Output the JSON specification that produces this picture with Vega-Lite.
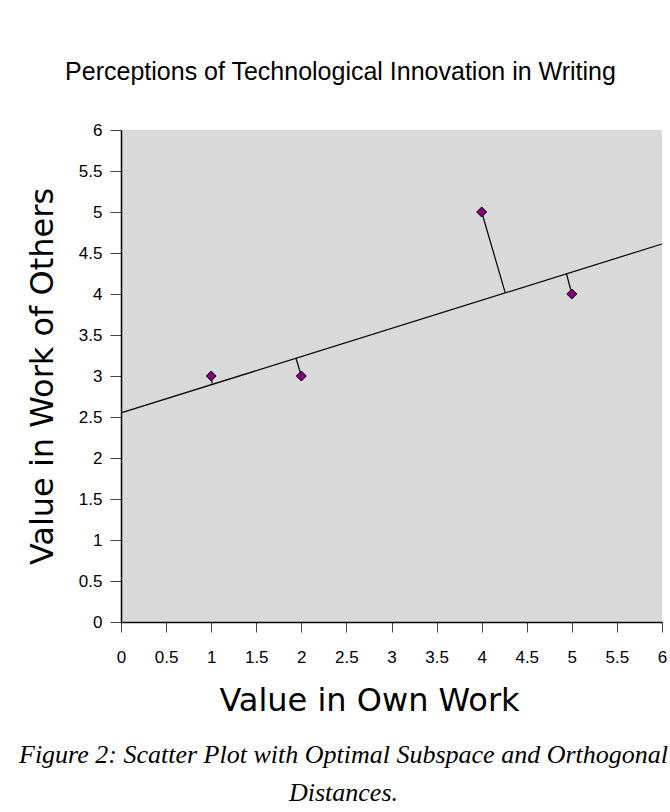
{
  "$schema": "https://vega.github.io/schema/vega-lite/v6.json",
  "autosize": "none",
  "width": 541,
  "height": 492,
  "padding": {"left": 121, "top": 130, "right": 8, "bottom": 190},
  "background": "white",
  "title": {
    "text": ["Figure 2: Scatter Plot with Optimal Subspace and Orthogonal", "Distances."],
    "orient": "bottom",
    "anchor": "middle",
    "frame": "group",
    "dx": -48,
    "offset": 47,
    "baseline": "alphabetic",
    "font": "Liberation Serif",
    "fontStyle": "italic",
    "fontSize": 26,
    "fontWeight": "normal",
    "lineHeight": 38,
    "color": "black"
  },
  "datasets": {
    "points": [
      {"own": 1, "others": 3},
      {"own": 2, "others": 3},
      {"own": 4, "others": 5},
      {"own": 5, "others": 4}
    ],
    "fit": [
      {"own": 0, "others": 2.55},
      {"own": 6, "others": 4.61}
    ],
    "resid": [
      {"own": 1, "others": 3, "own_end": 1.01, "others_end": 2.91},
      {"own": 2, "others": 3, "own_end": 1.94, "others_end": 3.22},
      {"own": 4, "others": 5, "own_end": 4.26, "others_end": 4.02},
      {"own": 5, "others": 4, "own_end": 4.94, "others_end": 4.25}
    ]
  },
  "resolve": {"axis": {"x": "independent"}},
  "layer": [
    {
      "data": {"name": "fit"},
      "mark": {"type": "line", "color": "black", "strokeWidth": 1.2},
      "encoding": {
        "x": {
          "field": "own", "type": "quantitative",
          "scale": {"domain": [0, 6], "nice": false, "zero": false},
          "axis": {
            "orient": "bottom",
            "values": [0, 0.5, 1, 1.5, 2, 2.5, 3, 3.5, 4, 4.5, 5, 5.5, 6],
            "format": "~g",
            "grid": false,
            "domainColor": "black",
            "domainWidth": 1.5,
            "tickColor": "#444",
            "tickSize": 10,
            "tickWidth": 1,
            "labelFont": "Liberation Sans",
            "labelFontSize": 17,
            "labelColor": "black",
            "labelPadding": 17,
            "labelFlush": false,
            "title": "Value in Own Work",
            "titleFont": "DejaVu Sans",
            "titleFontSize": 32,
            "titleFontWeight": "normal",
            "titleColor": "black",
            "titleX": 248,
            "titleY": 88,
            "titleAlign": "center",
            "titleBaseline": "alphabetic"
          }
        },
        "y": {
          "field": "others", "type": "quantitative",
          "scale": {"domain": [0, 6], "nice": false, "zero": false},
          "axis": {
            "values": [0, 0.5, 1, 1.5, 2, 2.5, 3, 3.5, 4, 4.5, 5, 5.5, 6],
            "format": "~g",
            "grid": false,
            "domainColor": "black",
            "domainWidth": 1.5,
            "tickColor": "#444",
            "tickSize": 11,
            "tickWidth": 1,
            "labelFont": "Liberation Sans",
            "labelFontSize": 17,
            "labelColor": "black",
            "labelPadding": 8,
            "labelFlush": false,
            "title": "Value in Work of Others",
            "titleFont": "DejaVu Sans",
            "titleFontSize": 32,
            "titleFontWeight": "normal",
            "titleColor": "black",
            "titleX": -69,
            "titleY": 246,
            "titleAngle": -90,
            "titleAlign": "center",
            "titleBaseline": "alphabetic"
          }
        }
      }
    },
    {
      "data": {"name": "resid"},
      "mark": {"type": "rule", "color": "black", "strokeWidth": 1.2},
      "encoding": {
        "x": {
          "field": "own", "type": "quantitative",
          "axis": {
            "orient": "top",
            "domain": false,
            "ticks": false,
            "labels": false,
            "grid": false,
            "title": "Perceptions of Technological Innovation in Writing",
            "titleFont": "Liberation Sans",
            "titleFontSize": 25,
            "titleFontWeight": "normal",
            "titleColor": "black",
            "titleX": 219,
            "titleY": -51,
            "titleAlign": "center",
            "titleBaseline": "alphabetic"
          }
        },
        "y": {"field": "others", "type": "quantitative"},
        "x2": {"field": "own_end"},
        "y2": {"field": "others_end"}
      }
    },
    {
      "data": {"name": "points"},
      "mark": {"type": "point", "shape": "diamond", "filled": true, "fill": "#800080", "stroke": "black", "strokeWidth": 1, "size": 100, "opacity": 1},
      "encoding": {
        "x": {"field": "own", "type": "quantitative", "axis": null},
        "y": {"field": "others", "type": "quantitative"}
      }
    }
  ],
  "config": {
    "view": {"stroke": null, "fill": "#d9d9d9"}
  }
}
